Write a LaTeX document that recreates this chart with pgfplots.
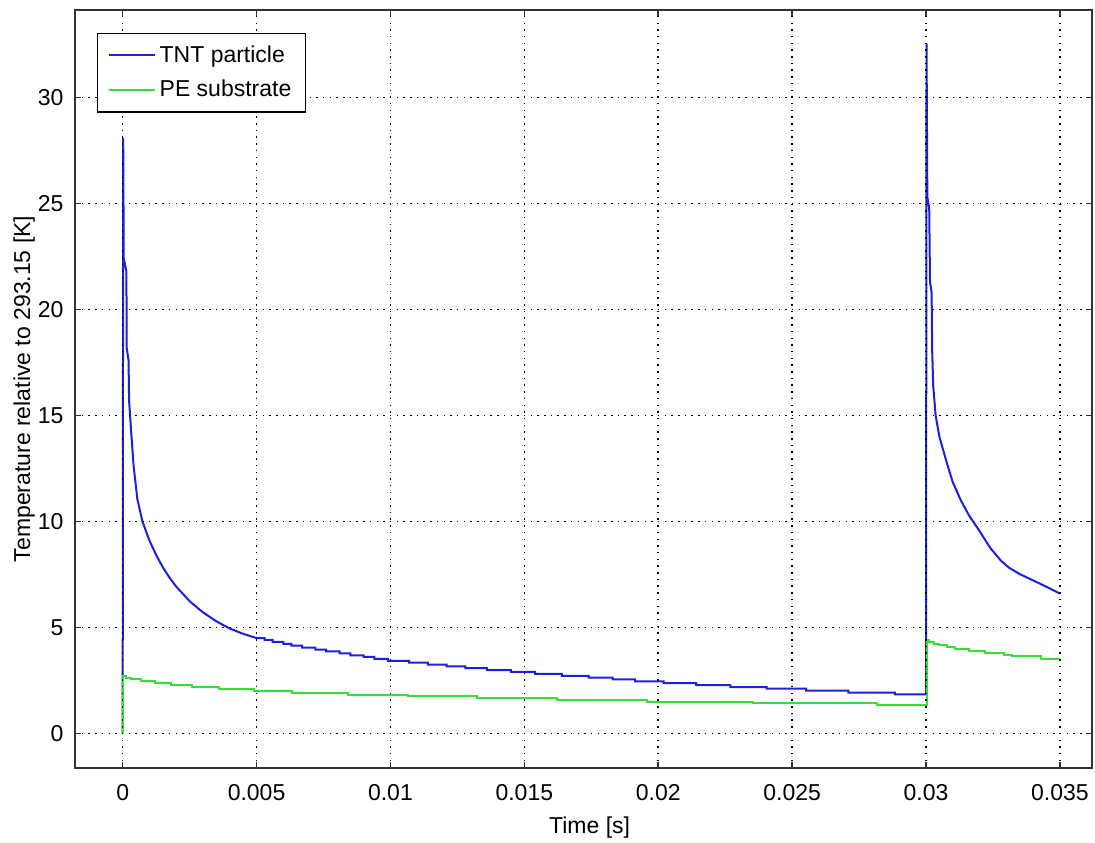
\documentclass[border=0pt]{standalone}
\usepackage{fontspec}
\setmainfont{Liberation Sans}
\usepackage{pgfplots}
\pgfplotsset{compat=1.18}
\definecolor{tntblue}{RGB}{30,30,220}
\definecolor{pegreen}{RGB}{50,225,50}
\begin{document}
\begin{tikzpicture}[font=\fontsize{11.5}{14}\selectfont]
\begin{axis}[
  scale only axis, width=508.5pt, height=378.9pt,
  at={(0,0)}, anchor=south west,
  xmin=-0.00178, xmax=0.0362, ymin=-1.62, ymax=34.13,
  scaled x ticks=false,
  xtick={0,0.005,0.01,0.015,0.02,0.025,0.03,0.035},
  xticklabels={0,0.005,0.01,0.015,0.02,0.025,0.03,0.035},
  ytick={0,5,10,15,20,25,30},
  /pgf/number format/assume math mode=true,
  grid=major,
  major grid style={black, line width=0.75pt, dash pattern=on 0.75pt off 2.6pt},
  axis on top,
  tick align=inside, major tick length=3pt,
  axis line style={black!80, line width=0.9pt},
  tick style={black!80, line width=0.8pt},
  yticklabel style={xshift=-2.2pt},
  xticklabel style={yshift=-5pt},
  xlabel={Time [s]},
  ylabel={Temperature relative to 293.15 [K]},
  xlabel style={at={(axis description cs:0.506,-0.0792)}, anchor=center},
  ylabel style={at={(axis description cs:-0.0500,0.5)}, anchor=center},
  legend style={at={(0.0216,0.9697)}, anchor=north west, draw=black, line width=0.7pt,
    cells={anchor=west}, inner xsep=5pt, inner ysep=4pt, row sep=3.5pt,
    font=\fontsize{11.5}{14}\selectfont},
  legend image code/.code={\draw[#1] (0pt,0pt) -- (23pt,0pt);},
]
\addplot[tntblue, line width=1pt] coordinates {
(0,0) (0.00002,28.1) (0.00004,22.4) (0.00014,21.8) (0.00015,18.2) (0.00022,17.6)
(0.00024,15.7) (0.00032,14.2) (0.00041,12.6) (0.00055,11.05) (0.00074,10.0)
(0.0010,9.1) (0.00125,8.42) (0.0015,7.84) (0.00175,7.35) (0.0020,6.93)
(0.0025,6.24) (0.0030,5.71) (0.0035,5.29) (0.0040,4.95) (0.0045,4.70) (0.0050,4.50)
(0.0053,4.50) (0.0053,4.41) (0.0056,4.41) (0.0056,4.32) (0.0060,4.32) (0.0060,4.23)
(0.0063,4.23) (0.0063,4.14) (0.0067,4.14) (0.0067,4.05) (0.0072,4.05) (0.0072,3.96)
(0.0076,3.96) (0.0076,3.87) (0.0081,3.87) (0.0081,3.78) (0.0085,3.78) (0.0085,3.69)
(0.0090,3.69) (0.0090,3.61) (0.0094,3.61) (0.0094,3.52) (0.0099,3.52) (0.0099,3.43)
(0.0107,3.43) (0.0107,3.34) (0.0114,3.34) (0.0114,3.25) (0.0121,3.25) (0.0121,3.16)
(0.0128,3.16) (0.0128,3.08) (0.0136,3.08) (0.0136,2.99) (0.0145,2.99) (0.0145,2.90)
(0.0154,2.90) (0.0154,2.81) (0.0164,2.81) (0.0164,2.72) (0.0174,2.72) (0.0174,2.64)
(0.0183,2.64) (0.0183,2.55) (0.01914,2.55) (0.01914,2.46) (0.0202,2.46) (0.0202,2.37)
(0.02142,2.37) (0.02142,2.28) (0.02269,2.28) (0.02269,2.19) (0.02405,2.19) (0.02405,2.11)
(0.02552,2.11) (0.02552,2.02) (0.0271,2.02) (0.0271,1.93) (0.02884,1.93) (0.02884,1.84)
(0.0300,1.84)
(0.03002,32.55) (0.03005,25.3) (0.03012,24.8) (0.03015,21.3) (0.03021,20.8)
(0.03023,18.1) (0.03027,16.4) (0.03036,15.0) (0.0305,14.0) (0.03077,12.8)
(0.0310,11.85) (0.0313,11.0) (0.0316,10.3) (0.0320,9.55) (0.0324,8.75)
(0.0328,8.15) (0.0331,7.82) (0.0335,7.52) (0.0340,7.22) (0.0345,6.92) (0.0350,6.6)
};
\addlegendentry{TNT particle}
\addplot[pegreen, line width=1pt, const plot] coordinates {
(0,0) (0.00003,2.70) (0.00012,2.64) (0.0003,2.55) (0.0007,2.46) (0.0012,2.38)
(0.0018,2.29) (0.0026,2.20) (0.0036,2.11) (0.0049,2.02) (0.00633,1.92)
(0.00843,1.83) (0.01067,1.75) (0.01323,1.67) (0.01622,1.59) (0.01958,1.50)
(0.02355,1.42) (0.02816,1.33)
(0.03003,4.40) (0.03012,4.32) (0.0303,4.24) (0.0305,4.16) (0.0308,4.07)
(0.0311,3.98) (0.0316,3.88) (0.0322,3.80) (0.0329,3.72) (0.0332,3.64)
(0.0343,3.51) (0.0350,3.51)
};
\addlegendentry{PE substrate}
\end{axis}
\pgfresetboundingbox
\path (-37.5pt,-37.15pt) rectangle (510pt,383.9pt);
\end{tikzpicture}
\end{document}
